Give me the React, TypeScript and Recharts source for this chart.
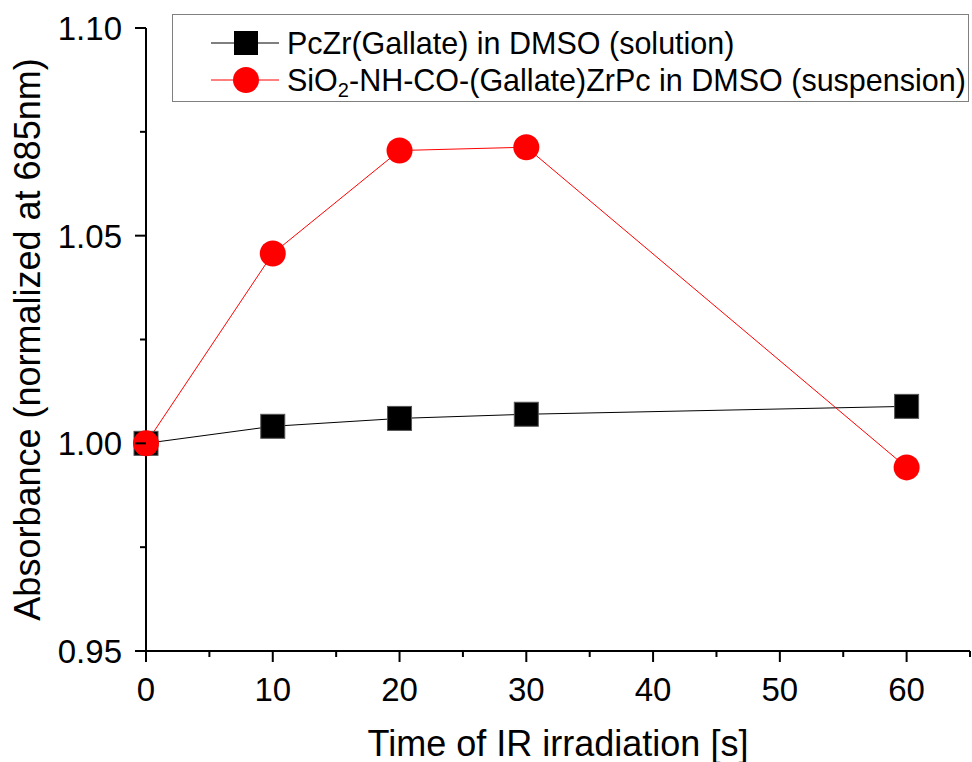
import { LineChart, Line, XAxis, YAxis } from "recharts";

const times = [0, 10, 20, 30, 60];
const pczrSolution = [1.0, 1.0041, 1.006, 1.007, 1.0089];
const sio2Suspension = [1.0, 1.0457, 1.0705, 1.0713, 0.9942];

const xTicks = [0, 5, 10, 15, 20, 25, 30, 35, 40, 45, 50, 55, 60, 65];
const xMajor = [0, 10, 20, 30, 40, 50, 60];
const yTicks = [0.95, 0.975, 1.0, 1.025, 1.05, 1.075, 1.1];
const yMajor = [0.95, 1.0, 1.05, 1.1];

const data = times.map((t, i) => ({
  t,
  pczr: pczrSolution[i],
  sio2: sio2Suspension[i],
}));

const FONT = "'Liberation Sans', Arial, sans-serif";
const TICK_SIZE = 11;
const X_MARGIN = 16;
const Y_MARGIN = 13;

const XTick = ({ x, y, payload }: any) => {
  const major = xMajor.includes(payload.value);
  const y0 = y - TICK_SIZE - X_MARGIN;
  return (
    <g>
      <line x1={x} x2={x} y1={y0} y2={y0 + (major ? TICK_SIZE : 6)} stroke="#000" strokeWidth={2} />
      {major && (
        <text x={x} y={y} dy="0.71em" textAnchor="middle" fontSize={33} fontFamily={FONT} fill="#000">
          {payload.value}
        </text>
      )}
    </g>
  );
};

const YTick = ({ x, y, payload }: any) => {
  const major = yMajor.some((m) => Math.abs(m - payload.value) < 1e-6);
  const x0 = x + TICK_SIZE + Y_MARGIN;
  return (
    <g>
      <line x1={x0} x2={x0 - (major ? TICK_SIZE : 6)} y1={y} y2={y} stroke="#000" strokeWidth={2} />
      {major && (
        <text x={x} y={y} dy="0.36em" textAnchor="end" fontSize={33} fontFamily={FONT} fill="#000">
          {payload.value.toFixed(2)}
        </text>
      )}
    </g>
  );
};

const SquareDot = ({ cx, cy }: any) => (
  <rect x={cx - 12} y={cy - 12} width={24} height={24} fill="#000" stroke="#555" strokeWidth={1} />
);

const CircleDot = ({ cx, cy }: any) => <circle cx={cx} cy={cy} r={13} fill="#ff0000" />;

// legend drawn as an overlay so it doesn't shrink the plot area
const LegendBox = () => (
  <div
    style={{
      position: "absolute",
      left: 172,
      top: 14,
      width: 797,
      height: 88,
      border: "1px solid #808080",
      boxSizing: "border-box",
      background: "#fff",
      fontFamily: FONT,
      fontSize: 30.5,
      color: "#000",
    }}
  >
    <div style={{ position: "absolute", left: 0, top: 12, height: 32, display: "flex", alignItems: "center" }}>
      <svg width={114} height={32}>
        <line x1={38} x2={106} y1={16} y2={16} stroke="#000" strokeWidth={1} />
        <rect x={61} y={4} width={24} height={24} fill="#000" />
      </svg>
      <span style={{ whiteSpace: "nowrap" }}>PcZr(Gallate) in DMSO (solution)</span>
    </div>
    <div style={{ position: "absolute", left: 0, top: 49, height: 32, display: "flex", alignItems: "center" }}>
      <svg width={114} height={32}>
        <line x1={38} x2={106} y1={16} y2={16} stroke="#ff0000" strokeWidth={1} />
        <circle cx={73} cy={16} r={13} fill="#ff0000" />
      </svg>
      <span style={{ whiteSpace: "nowrap" }}>
        SiO<sub style={{ fontSize: 20, verticalAlign: "-0.3em", lineHeight: 0 }}>2</sub>-NH-CO-(Gallate)ZrPc in DMSO (suspension)
      </span>
    </div>
  </div>
);

export default function App() {
  return (
    <div style={{ position: "absolute", left: 0, top: 0, width: 972, height: 762, background: "#fff" }}>
      <LineChart width={972} height={762} data={data} margin={{ top: 28, right: 2, left: 0, bottom: 0 }}>
        <XAxis
          dataKey="t"
          type="number"
          domain={[0, 65]}
          ticks={xTicks}
          interval={0}
          tick={<XTick />}
          tickLine={false}
          tickSize={TICK_SIZE}
          tickMargin={X_MARGIN}
          height={111}
          axisLine={{ stroke: "#000", strokeWidth: 2 }}
          label={{
            value: "Time of IR irradiation [s]",
            position: "insideBottom",
            offset: 6,
            fontSize: 36,
            fontFamily: FONT,
            fill: "#000",
          }}
        />
        <YAxis
          type="number"
          domain={[0.95, 1.1]}
          ticks={yTicks}
          interval={0}
          tick={<YTick />}
          tickLine={false}
          tickSize={TICK_SIZE}
          tickMargin={Y_MARGIN}
          width={146}
          axisLine={{ stroke: "#000", strokeWidth: 2 }}
          label={{
            value: "Absorbance (normalized at 685nm)",
            position: "center",
            angle: -90,
            dx: -46,
            fontSize: 36,
            fontFamily: FONT,
            fill: "#000",
          }}
        />
        <Line
          dataKey="pczr"
          stroke="#000"
          strokeWidth={1}
          dot={<SquareDot />}
          activeDot={false}
          isAnimationActive={false}
        />
        <Line
          dataKey="sio2"
          stroke="#ff0000"
          strokeWidth={1}
          dot={<CircleDot />}
          activeDot={false}
          isAnimationActive={false}
        />
      </LineChart>
      <LegendBox />
    </div>
  );
}
